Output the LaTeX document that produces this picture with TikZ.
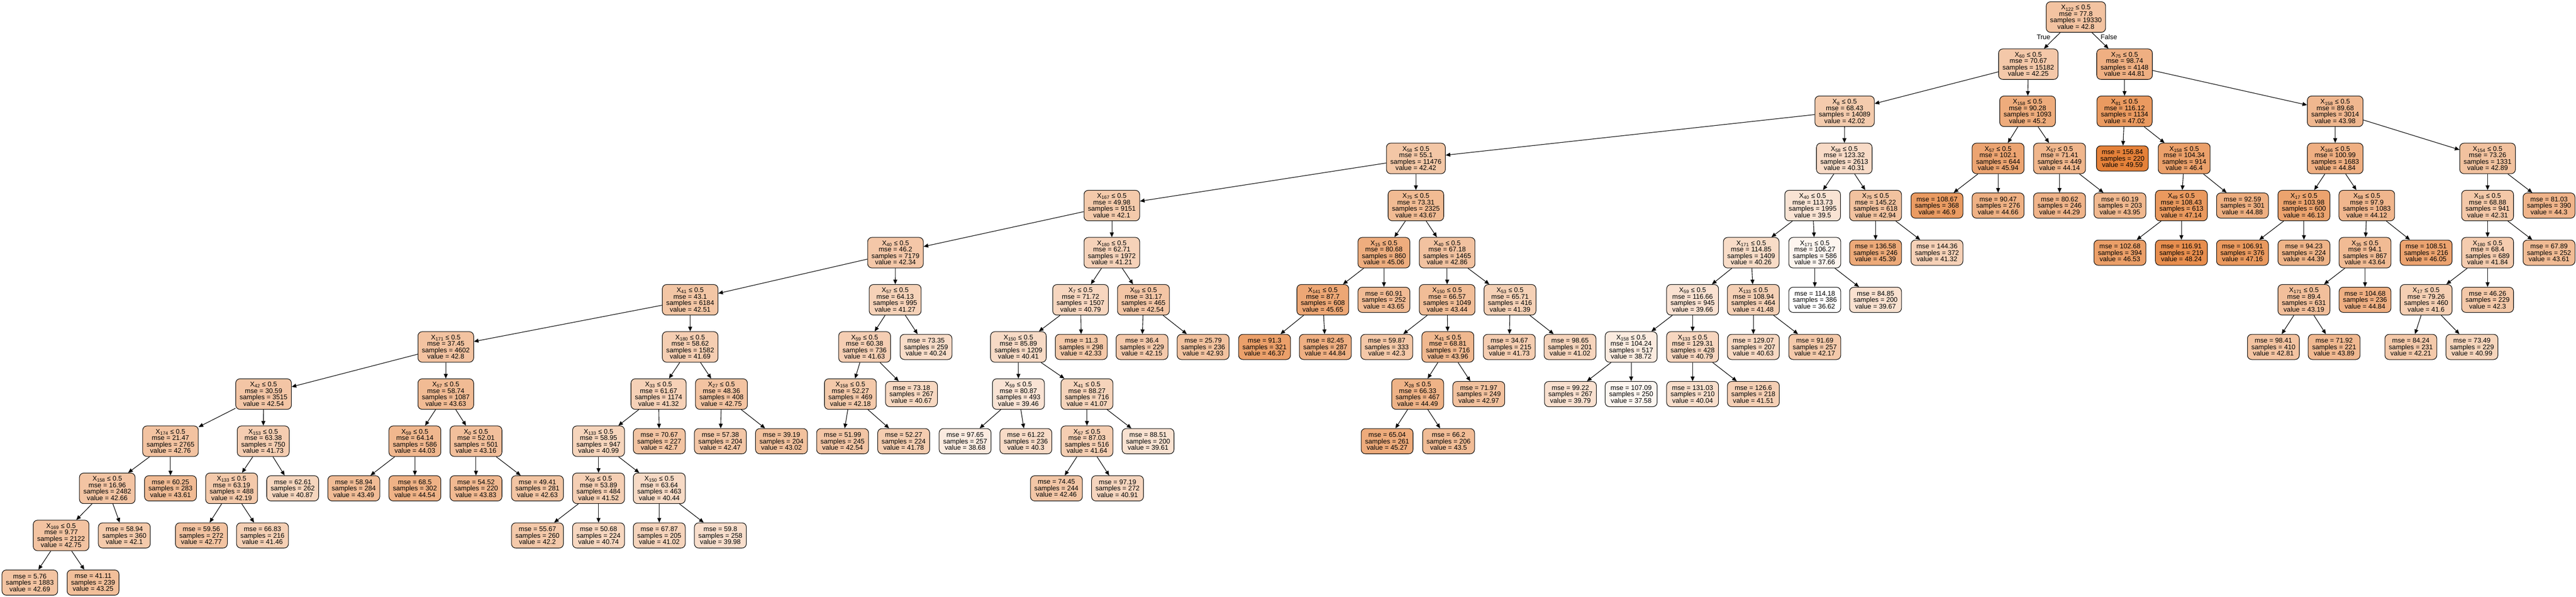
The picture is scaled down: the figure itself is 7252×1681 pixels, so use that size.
\documentclass[tikz,border=0pt]{standalone}
\usepackage{fontspec}
\setmainfont{Liberation Sans}
\usetikzlibrary{arrows.meta}
\definecolor{treeor}{RGB}{229,129,57}
\newcommand\dtsplit[7]{\node[splitnode,val=#7] (#1) at (#2,{48+132.7*#3}) {X\textsubscript{#4} ≤ 0.5\\mse = #5\\samples = #6\\value = #7};}
\newcommand\dtleaf[6]{\node[leafnode,val=#6] (#1) at (#2,{48+132.7*#3}) {mse = #4\\samples = #5\\value = #6};}
\begin{document}
\begin{tikzpicture}[x=0.5pt,y=-0.5pt,
  val/.code={\pgfmathsetmacro\dtpct{max(0,min(100,(#1-36.62)/12.97*100))}\edef\dtdo{\noexpand\pgfkeysalso{fill=treeor!\dtpct!white}}\dtdo},
  treebox/.style={draw=black,line width=0.75pt,rounded corners=6pt,align=center,inner xsep=5.5pt,inner ysep=0pt,
    font=\fontsize{9.5pt}{9.05pt}\selectfont},
  splitnode/.style={treebox,minimum height=43pt},
  leafnode/.style={treebox,minimum height=35.5pt},
  edge/.style={draw=black,line width=0.8pt,-{Triangle[length=6.5pt,width=5.5pt]}},
  elabel/.style={font=\fontsize{9.5pt}{9.05pt}\selectfont,inner sep=0pt}]
\useasboundingbox[fill=white] (0,0) rectangle (7252,1681);
% level 0-1
\dtsplit{r}{5844}{0}{122}{77.8}{19330}{42.8}
\dtsplit{a}{5710}{1}{60}{70.67}{15182}{42.25}
\dtsplit{b}{5981}{1}{75}{98.74}{4148}{44.81}
% level 2
\dtsplit{c}{5193}{2}{8}{68.43}{14089}{42.02}
\dtsplit{d}{5708}{2}{158}{90.28}{1093}{45.2}
\dtsplit{e}{5981}{2}{81}{116.12}{1134}{47.02}
\dtsplit{f}{6574}{2}{158}{89.68}{3014}{43.98}
% level 3
\dtsplit{g}{3986}{3}{58}{55.1}{11476}{42.42}
\dtsplit{h}{5192}{3}{58}{123.32}{2613}{40.31}
\dtsplit{i}{5625}{3}{57}{102.1}{644}{45.94}
\dtsplit{j}{5798}{3}{57}{71.41}{449}{44.14}
\dtleaf{k}{5975}{3}{156.84}{220}{49.59}
\dtsplit{l}{6149}{3}{158}{104.34}{914}{46.4}
\dtsplit{m}{6574}{3}{166}{100.99}{1683}{44.84}
\dtsplit{n}{7003}{3}{154}{73.26}{1331}{42.89}
% level 4
\dtsplit{g1}{3130}{4}{167}{49.98}{9151}{42.1}
\dtsplit{g2}{3986}{4}{75}{73.31}{2325}{43.67}
\dtsplit{h1}{5103}{4}{40}{113.73}{1995}{39.5}
\dtsplit{h2}{5280}{4}{75}{145.22}{618}{42.94}
\dtleaf{i1}{5453}{4}{108.67}{368}{46.9}
\dtleaf{i2}{5625}{4}{90.47}{276}{44.66}
\dtleaf{j1}{5798}{4}{80.62}{246}{44.29}
\dtleaf{j2}{5968}{4}{60.19}{203}{43.95}
\dtsplit{l1}{6141}{4}{49}{108.43}{613}{47.14}
\dtleaf{l2}{6313}{4}{92.59}{301}{44.88}
\dtsplit{m1}{6486}{4}{17}{103.98}{600}{46.13}
\dtsplit{m2}{6663}{4}{58}{97.9}{1083}{44.12}
\dtsplit{n1}{7003}{4}{18}{68.88}{941}{42.31}
\dtleaf{n2}{7176}{4}{81.03}{390}{44.3}
% level 5
\dtsplit{g1a}{2521}{5}{40}{46.2}{7179}{42.34}
\dtsplit{g1b}{3130}{5}{180}{62.71}{1972}{41.21}
\dtsplit{g2a}{3896}{5}{15}{80.68}{860}{45.06}
\dtsplit{g2b}{4074}{5}{40}{67.18}{1465}{42.86}
\dtsplit{h1a}{4930}{5}{171}{114.85}{1409}{40.26}
\dtsplit{h1b}{5109}{5}{171}{106.27}{586}{37.66}
\dtleaf{h2a}{5280}{5}{136.58}{246}{45.39}
\dtleaf{h2b}{5453}{5}{144.36}{372}{41.32}
\dtleaf{l1a}{5968}{5}{102.68}{394}{46.53}
\dtleaf{l1b}{6141}{5}{116.91}{219}{48.24}
\dtleaf{m1a}{6313}{5}{106.91}{376}{47.16}
\dtleaf{m1b}{6486}{5}{94.23}{224}{44.39}
\dtsplit{m2a}{6658}{5}{35}{94.1}{867}{43.64}
\dtleaf{m2b}{6830}{5}{108.51}{216}{46.05}
\dtsplit{n1a}{7003}{5}{180}{68.4}{689}{41.84}
\dtleaf{n1b}{7176}{5}{67.89}{252}{43.61}
% level 6
\dtsplit{p1}{1943}{6}{41}{43.1}{6184}{42.51}
\dtsplit{p2}{2520}{6}{57}{64.13}{995}{41.27}
\dtsplit{q1}{3042}{6}{7}{71.72}{1507}{40.79}
\dtsplit{q2}{3219}{6}{59}{31.17}{465}{42.54}
\dtsplit{s1}{3724}{6}{141}{87.7}{608}{45.65}
\dtleaf{s2}{3896}{6}{60.91}{252}{43.65}
\dtsplit{t1}{4074}{6}{150}{66.57}{1049}{43.44}
\dtsplit{t2}{4251}{6}{53}{65.71}{416}{41.39}
\dtsplit{u1}{4765}{6}{59}{116.66}{945}{39.66}
\dtsplit{u2}{4936}{6}{133}{108.94}{464}{41.48}
\dtleaf{w1}{5109}{6}{114.18}{386}{36.62}
\dtleaf{w2}{5280}{6}{84.85}{200}{39.67}
\dtsplit{x1}{6486}{6}{171}{89.4}{631}{43.19}
\dtleaf{x2}{6658}{6}{104.68}{236}{44.84}
\dtsplit{y1}{6830}{6}{17}{79.26}{460}{41.6}
\dtleaf{y2}{7003}{6}{46.26}{229}{42.3}
% level 7
\dtsplit{p1a}{1255}{7}{171}{37.45}{4602}{42.8}
\dtsplit{p1b}{1943}{7}{180}{58.62}{1582}{41.69}
\dtsplit{p2a}{2434}{7}{59}{60.38}{736}{41.63}
\dtleaf{p2b}{2607}{7}{73.35}{259}{40.24}
\dtsplit{q1a}{2867}{7}{150}{85.89}{1209}{40.41}
\dtleaf{q1b}{3044}{7}{11.3}{298}{42.33}
\dtleaf{q2a}{3215}{7}{36.4}{229}{42.15}
\dtleaf{q2b}{3387}{7}{25.79}{236}{42.93}
\dtleaf{s1a}{3560}{7}{91.3}{321}{46.37}
\dtleaf{s1b}{3731}{7}{82.45}{287}{44.84}
\dtleaf{t1a}{3904}{7}{59.87}{333}{42.3}
\dtsplit{t1b}{4076}{7}{41}{68.81}{716}{43.96}
\dtleaf{t2a}{4249}{7}{34.67}{215}{41.73}
\dtleaf{t2b}{4420}{7}{98.65}{201}{41.02}
\dtsplit{u1a}{4592}{7}{158}{104.24}{517}{38.72}
\dtsplit{u1b}{4765}{7}{133}{129.31}{428}{40.79}
\dtleaf{u2a}{4936}{7}{129.07}{207}{40.63}
\dtleaf{u2b}{5109}{7}{91.69}{257}{42.17}
\dtleaf{x1a}{6400}{7}{98.41}{410}{42.81}
\dtleaf{x1b}{6571}{7}{71.92}{221}{43.89}
\dtleaf{y1a}{6787}{7}{84.24}{231}{42.21}
\dtleaf{y1b}{6959}{7}{73.49}{229}{40.99}
% level 8
\dtsplit{P1}{742}{8}{42}{30.59}{3515}{42.54}
\dtsplit{P2}{1255}{8}{57}{58.74}{1087}{43.63}
\dtsplit{P3}{1854}{8}{33}{61.67}{1174}{41.32}
\dtsplit{P4}{2031}{8}{27}{48.36}{408}{42.75}
\dtsplit{P5}{2394}{8}{158}{52.27}{469}{42.18}
\dtleaf{P6}{2566}{8}{73.18}{267}{40.67}
\dtsplit{P7}{2867}{8}{59}{80.87}{493}{39.46}
\dtsplit{P8}{3060}{8}{41}{88.27}{716}{41.07}
\dtsplit{P9}{3991}{8}{28}{66.33}{467}{44.49}
\dtleaf{P10}{4163}{8}{71.97}{249}{42.97}
\dtleaf{P11}{4421}{8}{99.22}{267}{39.79}
\dtleaf{P12}{4592}{8}{107.09}{250}{37.58}
\dtleaf{P13}{4765}{8}{131.03}{210}{40.04}
\dtleaf{P14}{4936}{8}{126.6}{218}{41.51}
% level 9
\dtsplit{Q1}{480}{9}{174}{21.47}{2765}{42.76}
\dtsplit{Q2}{741}{9}{153}{63.38}{750}{41.73}
\dtsplit{Q3}{1168}{9}{59}{64.14}{586}{44.03}
\dtsplit{Q4}{1340}{9}{0}{52.01}{501}{43.16}
\dtsplit{Q5}{1685}{9}{133}{58.95}{947}{40.99}
\dtleaf{Q6}{1856}{9}{70.67}{227}{42.7}
\dtleaf{Q7}{2028}{9}{57.38}{204}{42.47}
\dtleaf{Q8}{2200}{9}{39.19}{204}{43.02}
\dtleaf{Q9}{2372}{9}{51.99}{245}{42.54}
\dtleaf{Q10}{2544}{9}{52.27}{224}{41.78}
\dtleaf{Q11}{2717}{9}{97.65}{257}{38.68}
\dtleaf{Q12}{2888}{9}{61.22}{236}{40.3}
\dtsplit{Q13}{3060}{9}{57}{87.03}{516}{41.64}
\dtleaf{Q14}{3232}{9}{88.51}{200}{39.61}
\dtleaf{Q15}{3905}{9}{65.04}{261}{45.27}
\dtleaf{Q16}{4078}{9}{66.2}{206}{43.5}
% level 10
\dtsplit{R1}{302}{10}{158}{16.96}{2482}{42.66}
\dtleaf{R2}{480}{10}{60.25}{283}{43.61}
\dtsplit{R3}{652}{10}{133}{63.19}{488}{42.19}
\dtleaf{R4}{824}{10}{62.61}{262}{40.87}
\dtleaf{R5}{996}{10}{58.94}{284}{43.49}
\dtleaf{R6}{1168}{10}{68.5}{302}{44.54}
\dtleaf{R7}{1340}{10}{54.52}{220}{43.83}
\dtleaf{R8}{1513}{10}{49.41}{281}{42.63}
\dtsplit{R9}{1685}{10}{59}{53.89}{484}{41.52}
\dtsplit{R10}{1856}{10}{150}{63.64}{463}{40.44}
\dtleaf{R11}{2974}{10}{74.45}{244}{42.46}
\dtleaf{R12}{3146}{10}{97.19}{272}{40.91}
% level 11
\dtsplit{S1}{172}{11}{169}{9.77}{2122}{42.75}
\dtleaf{S2}{350}{11}{58.94}{360}{42.1}
\dtleaf{S3}{567}{11}{59.56}{272}{42.77}
\dtleaf{S4}{739}{11}{66.83}{216}{41.46}
\dtleaf{S5}{1513}{11}{55.67}{260}{42.2}
\dtleaf{S6}{1685}{11}{50.68}{224}{40.74}
\dtleaf{S7}{1856}{11}{67.87}{205}{41.02}
\dtleaf{S8}{2028}{11}{59.8}{258}{39.98}
% level 12
\dtleaf{T1}{84}{12}{5.76}{1883}{42.69}
\dtleaf{T2}{262}{12}{41.11}{239}{43.25}
% edge labels
\node[elabel] (lbltrue) at (5753,104) {True};
\node[elabel] (lblfalse) at (5937,104) {False};
% edges
\foreach \u/\v in {r/a,r/b,a/c,a/d,b/e,b/f,c/g,c/h,d/i,d/j,e/k,e/l,f/m,f/n,
  g/g1,g/g2,h/h1,h/h2,i/i1,i/i2,j/j1,j/j2,l/l1,l/l2,m/m1,m/m2,n/n1,n/n2,
  g1/g1a,g1/g1b,g2/g2a,g2/g2b,h1/h1a,h1/h1b,h2/h2a,h2/h2b,l1/l1a,l1/l1b,m1/m1a,m1/m1b,m2/m2a,m2/m2b,n1/n1a,n1/n1b,
  g1a/p1,g1a/p2,g1b/q1,g1b/q2,g2a/s1,g2a/s2,g2b/t1,g2b/t2,h1a/u1,h1a/u2,h1b/w1,h1b/w2,m2a/x1,m2a/x2,n1a/y1,n1a/y2,
  p1/p1a,p1/p1b,p2/p2a,p2/p2b,q1/q1a,q1/q1b,q2/q2a,q2/q2b,s1/s1a,s1/s1b,t1/t1a,t1/t1b,t2/t2a,t2/t2b,u1/u1a,u1/u1b,u2/u2a,u2/u2b,x1/x1a,x1/x1b,y1/y1a,y1/y1b,
  p1a/P1,p1a/P2,p1b/P3,p1b/P4,p2a/P5,p2a/P6,q1a/P7,q1a/P8,t1b/P9,t1b/P10,u1a/P11,u1a/P12,u1b/P13,u1b/P14,
  P1/Q1,P1/Q2,P2/Q3,P2/Q4,P3/Q5,P3/Q6,P4/Q7,P4/Q8,P5/Q9,P5/Q10,P7/Q11,P7/Q12,P8/Q13,P8/Q14,P9/Q15,P9/Q16,
  Q1/R1,Q1/R2,Q2/R3,Q2/R4,Q3/R5,Q3/R6,Q4/R7,Q4/R8,Q5/R9,Q5/R10,Q13/R11,Q13/R12,
  R1/S1,R1/S2,R3/S3,R3/S4,R9/S5,R9/S6,R10/S7,R10/S8,
  S1/T1,S1/T2}
  \draw[edge] (\u) -- (\v);
\end{tikzpicture}
\end{document}
